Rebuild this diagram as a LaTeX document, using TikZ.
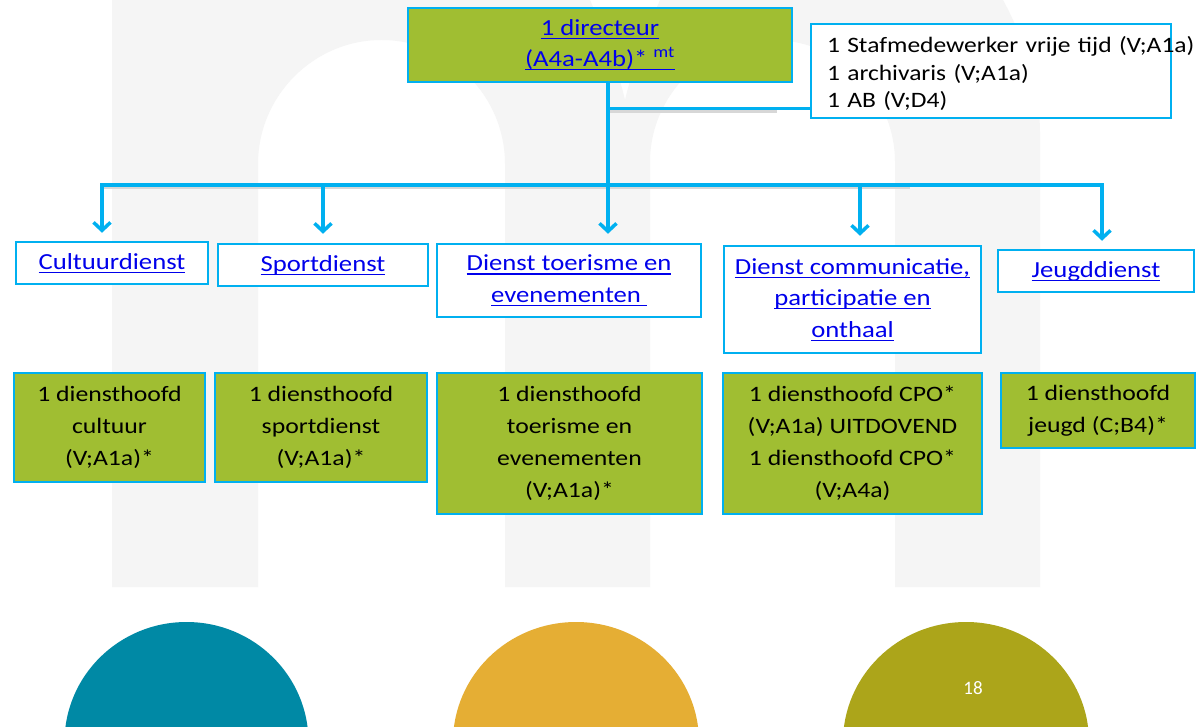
\documentclass[tikz,border=0pt]{standalone}
\usepackage{fontspec}
\setmainfont{Carlito}
\usetikzlibrary{arrows.meta,calc}
\newfontfamily\calst[FakeStretch=1.16]{Carlito}
\newfontfamily\calgr[FakeStretch=1.17]{Carlito}
\definecolor{cyanb}{RGB}{0,176,240}
\definecolor{boxgreen}{RGB}{160,190,50}
\definecolor{linkblue}{RGB}{0,0,235}
\definecolor{bggray}{RGB}{245,245,245}
\definecolor{tealc}{RGB}{0,137,165}
\definecolor{goldc}{RGB}{229,174,52}
\definecolor{olivec}{RGB}{172,165,26}
\definecolor{shadowc}{RGB}{215,215,215}
\newsavebox\ulbox
\newcommand{\ulx}[1]{\sbox\ulbox{#1}\rlap{\rule[-3.8pt]{\wd\ulbox}{1.3pt}}\usebox\ulbox}
\begin{document}
\begin{tikzpicture}[x=1pt,y=-1pt,
  box/.style={draw=cyanb, line width=2.5pt, inner sep=0pt, align=center},
  bluebox/.style={box, fill=white, text=linkblue, font=\calst\fontsize{23}{31.5}\selectfont},
  greenbox/.style={box, fill=boxgreen, text=black, font=\calgr\fontsize{22}{32}\selectfont},
  conn/.style={draw=cyanb, line width=3.2pt},
  barb/.tip={Straight Barb[length=8pt,width=17pt,line width=3.5pt]},
  arrowend/.style={-barb, shorten >=9pt},
  arrowboth/.style={barb-barb, shorten >=8pt, shorten <=8pt},
  shadowline/.style={draw=shadowc, line width=3pt}
]
\useasboundingbox (0,0) rectangle (1198,727);
\fill[white] (0,0) rectangle (1198,727);
% background letter m
\fill[bggray] (112,587) -- (112,0) -- (590,0)
  .. controls (605,35) and (618,70) .. (625,100)
  .. controls (632,70) and (645,35) .. (660,0) -- (1003,0)
  .. controls (1025,40) and (1040,90) .. (1040,133) -- (1040,587) -- (895,587) -- (895,162)
  .. controls (895,95) and (839.5,40) .. (772.5,40)
  .. controls (705.5,40) and (650,95) .. (650,162) -- (650,587) -- (505,587) -- (505,164)
  .. controls (505,96) and (449.5,40) .. (381.5,40)
  .. controls (313.5,40) and (258,96) .. (258,164) -- (258,587) -- cycle;
% bottom ovals
\fill[tealc] (186.5,742) ellipse [x radius=122pt, y radius=120pt];
\fill[goldc] (576,742) ellipse [x radius=123pt, y radius=120pt];
\fill[olivec] (966,742) ellipse [x radius=123pt, y radius=120pt];
\node[text=white, font=\fontsize{19}{19}\selectfont, inner sep=0pt] (pagenr) at (973,688) {18};

% boxes
\node[box, fill=boxgreen, text=linkblue, font=\calst\fontsize{23}{31}\selectfont,
  minimum width=384pt, minimum height=74pt] (dir) at (600,45)
  {\ulx{1 directeur}\\\ulx{(A4a-A4b)*\ \textsuperscript{mt}}};
\node[box, fill=white, text=black, font=\calst\fontsize{22}{27.5}\selectfont, align=left,
  text width=328pt, inner xsep=16pt, minimum height=94pt] (staff) at (991,71)
  {\mbox{\rule{0pt}{22pt}1 Stafmedewerker vrije tijd (V;A1a)}\\1 archivaris (V;A1a)\\1 AB (V;D4)};

\node[bluebox, minimum width=192pt, minimum height=42pt] (c1) at (112,263) {\ulx{Cultuurdienst}};
\node[bluebox, minimum width=210pt, minimum height=42pt] (c2) at (323,265) {\ulx{Sportdienst}};
\node[bluebox, minimum width=264pt, minimum height=73pt] (c3) at (569,280.5) {\ulx{Dienst toerisme en}\\\ulx{evenementen\ }};
\node[bluebox, minimum width=257pt, minimum height=107pt] (c4) at (852.5,299.5) {\ulx{Dienst communicatie,}\\\ulx{participatie en}\\\ulx{onthaal}};
\node[bluebox, minimum width=196pt, minimum height=42pt] (c5) at (1096,271) {\ulx{Jeugddienst}};

\node[greenbox, minimum width=191pt, minimum height=109pt] (g1) at (109.5,427.5) {1 diensthoofd\\cultuur\\(V;A1a)*};
\node[greenbox, minimum width=212pt, minimum height=109pt] (g2) at (321,427.5) {1 diensthoofd\\sportdienst\\(V;A1a)*};
\node[greenbox, minimum width=265pt, minimum height=141pt] (g3) at (569.5,443.5) {1 diensthoofd\\toerisme en\\evenementen\\(V;A1a)*};
\node[greenbox, minimum width=259pt, minimum height=141pt] (g4) at (852.5,443.5) {1 diensthoofd CPO*\\(V;A1a) UITDOVEND\\1 diensthoofd CPO*\\(V;A4a)};
\node[greenbox, minimum width=194pt, minimum height=75pt] (g5) at (1098,410.5) {1 diensthoofd\\jeugd (C;B4)*};

% connectors
\coordinate (d0) at ($(dir.south)+(8,0)$);
\coordinate (d1) at ($(d0)+(0,25)$);
\coordinate (bL) at (102,185);
\coordinate (bR) at (1102,185);
\coordinate (b2) at (323,185);
\coordinate (b4) at (860,185);
\draw[shadowline] ($(bL)+(0,3)$) -- ($(bL)+(808,3)$);
\draw[shadowline] ($(d1)+(2,3)$) -- ($(d1)+(169,3)$);
\draw[conn] (d1) -- (d1 -| staff.west);
\draw[conn, arrowboth] (bL |- c1.north) -- (bL) -- (bR) -- (bR |- c5.north);
\draw[conn, arrowend] (b2) -- (b2 |- c2.north);
\draw[conn, arrowend] (b4) -- (b4 |- c4.north);
\draw[conn, arrowend] (d0) -- (d0 |- c3.north);
\end{tikzpicture}
\end{document}
